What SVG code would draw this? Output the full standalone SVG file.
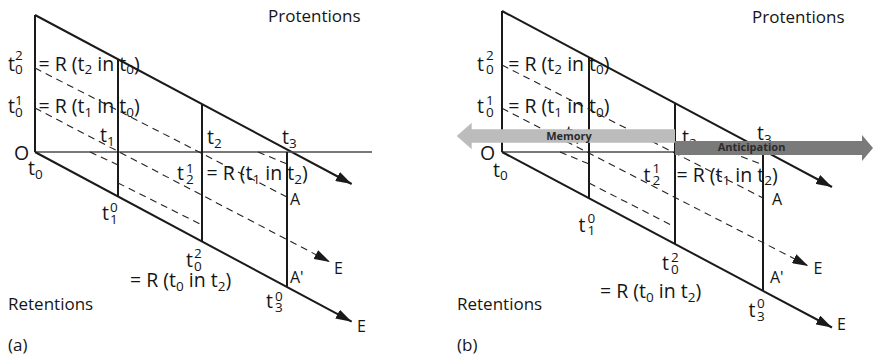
<svg xmlns="http://www.w3.org/2000/svg" width="873" height="359" viewBox="0 0 873 359">
<style>
.bg{fill:#fff}
.ln{stroke:#1a1a1a;stroke-width:2;fill:none}
.hz{stroke:#4d4d4d;stroke-width:1.5;fill:none}
.ds{stroke:#222;stroke-width:1.1;stroke-dasharray:7 5;fill:none}
.m{font-family:"Open Sans","Noto Sans",sans-serif;font-size:19.5px;fill:#151515}
.s{font-size:13.5px}
.sm{font-size:16px}
.w{font-size:17px}
.lab{font-family:"Open Sans","Noto Sans",sans-serif;font-weight:bold;font-size:11px;fill:#2b2b2b}
</style>
<defs>
<marker id="ah" viewBox="0 0 16 10" refX="16" refY="5" markerWidth="16" markerHeight="10" markerUnits="userSpaceOnUse" orient="auto">
<path d="M0,0 L16,5 L0,10 z" fill="#1a1a1a"/>
</marker>
</defs>
<rect class="bg" x="0" y="0" width="873" height="359"/>

<g id="panel-a">
<g id="connectors-a">
<path class="ln" d="M35,15 V152"/>
<path class="ln" d="M35,15 L351.7,184" marker-end="url(#ah)"/>
<path class="hz" d="M35,152 H372"/>
<path class="ln" d="M35,152 L351.7,321.7" marker-end="url(#ah)"/>
<path class="ln" d="M118,59.3 V196.5"/>
<path class="ln" d="M202,104.1 V241.5"/>
<path class="ln" d="M287,152 V287"/>
<path class="ds" d="M35,68 L287,197"/>
<path class="ds" d="M35,108 L330,262" marker-end="url(#ah)"/>
<path class="ds" d="M90,152 L118,165"/>
<path class="ds" d="M118,183 L202,225"/>
<path class="ds" d="M258,152 L287,164"/>
</g>
<g id="labels-a">
<text class="m w" x="268" y="21.5">Protentions</text>
<text class="m" x="8" y="70.5">t<tspan class="s" x="15" y="74">0</tspan><tspan class="s" x="15" y="60">2</tspan></text>
<text class="m" x="38.5" y="70.5">= R (t<tspan class="s" dy="3.5">2</tspan><tspan dy="-3.5"> in t</tspan><tspan class="s" dy="3.5">0</tspan><tspan dy="-3.5">)</tspan></text>
<text class="m" x="8" y="113">t<tspan class="s" x="15" y="116.5">0</tspan><tspan class="s" x="15" y="105">1</tspan></text>
<text class="m" x="38.5" y="113">= R (t<tspan class="s" dy="3.5">1</tspan><tspan dy="-3.5"> in t</tspan><tspan class="s" dy="3.5">0</tspan><tspan dy="-3.5">)</tspan></text>
<text class="m" x="100" y="142">t<tspan class="s" dy="3.5">1</tspan></text>
<text class="m" x="14" y="160">O</text>
<text class="m" x="28" y="175">t<tspan class="s" dy="3.5">0</tspan></text>
<text class="m" x="207" y="144">t<tspan class="s" dy="3.5">2</tspan></text>
<text class="m" x="282" y="144">t<tspan class="s" dy="3.5">3</tspan></text>
<text class="m" x="177" y="180">t<tspan class="s" x="186" y="183.5">2</tspan><tspan class="s" x="186" y="173">1</tspan></text>
<text class="m" x="206.5" y="180">= R (t<tspan class="s" dy="3.5">1</tspan><tspan dy="-3.5"> in t</tspan><tspan class="s" dy="3.5">2</tspan><tspan dy="-3.5">)</tspan></text>
<text class="m sm" x="290" y="205">A</text>
<text class="m" x="102" y="220">t<tspan class="s" x="110" y="223.5">1</tspan><tspan class="s" x="110" y="211.5">0</tspan></text>
<text class="m" x="186" y="267">t<tspan class="s" x="194" y="270.5">0</tspan><tspan class="s" x="194" y="258">2</tspan></text>
<text class="m" x="130" y="287">= R (t<tspan class="s" dy="3.5">0</tspan><tspan dy="-3.5"> in t</tspan><tspan class="s" dy="3.5">2</tspan><tspan dy="-3.5">)</tspan></text>
<text class="m sm" x="290" y="283">A'</text>
<text class="m sm" x="334" y="274">E</text>
<text class="m" x="266" y="308">t<tspan class="s" x="275" y="312">3</tspan><tspan class="s" x="275" y="301">0</tspan></text>
<text class="m sm" x="357" y="332">E</text>
<text class="m w" x="8" y="310">Retentions</text>
<text class="m w" x="8" y="351">(a)</text>
</g>
</g>

<g id="panel-b">
<g id="connectors-b">
<path class="ln" d="M502,11 V152"/>
<path class="ln" d="M502,11 L832,187" marker-end="url(#ah)"/>
<path class="hz" d="M502,152 H855"/>
<path class="ln" d="M502,152 L832,327.5" marker-end="url(#ah)"/>
<path class="ln" d="M589,57.4 V198.3"/>
<path class="ln" d="M675,103.3 V244"/>
<path class="ln" d="M763,152 V290.8"/>
<path class="ds" d="M502,65 L763,198"/>
<path class="ds" d="M502,108.3 L808.3,266" marker-end="url(#ah)"/>
<path class="ds" d="M560,152 L589,164"/>
<path class="ds" d="M589,183 L675,227"/>
<path class="ds" d="M730,152 L763,165"/>
</g>
<g id="labels-b">
<text class="m w" x="752" y="22.5">Protentions</text>
<text class="m" x="477" y="70.5">t<tspan class="s" x="486" y="74">0</tspan><tspan class="s" x="486" y="60">2</tspan></text>
<text class="m" x="508.3" y="70.5">= R (t<tspan class="s" dy="3.5">2</tspan><tspan dy="-3.5"> in t</tspan><tspan class="s" dy="3.5">0</tspan><tspan dy="-3.5">)</tspan></text>
<text class="m" x="477" y="113">t<tspan class="s" x="486" y="116.5">0</tspan><tspan class="s" x="486" y="105">1</tspan></text>
<text class="m" x="508.3" y="113">= R (t<tspan class="s" dy="3.5">1</tspan><tspan dy="-3.5"> in t</tspan><tspan class="s" dy="3.5">0</tspan><tspan dy="-3.5">)</tspan></text>
<text class="m" x="566" y="140">t<tspan class="s" dy="3.5">1</tspan></text>
<text class="m" x="480" y="160">O</text>
<text class="m" x="493" y="176.5">t<tspan class="s" dy="3.5">0</tspan></text>
<text class="m" x="682" y="144">t<tspan class="s" dy="3.5">2</tspan></text>
<text class="m" x="757" y="140">t<tspan class="s" dy="3.5">3</tspan></text>
<text class="m" x="643.5" y="181.5">t<tspan class="s" x="652.5" y="185">2</tspan><tspan class="s" x="652.5" y="173">1</tspan></text>
<text class="m" x="676.5" y="181.5">= R (t<tspan class="s" dy="3.5">1</tspan><tspan dy="-3.5"> in t</tspan><tspan class="s" dy="3.5">2</tspan><tspan dy="-3.5">)</tspan></text>
<text class="m sm" x="772" y="205">A</text>
<text class="m" x="578.5" y="231.5">t<tspan class="s" x="587.5" y="234.5">1</tspan><tspan class="s" x="587.5" y="223">0</tspan></text>
<text class="m" x="662" y="270">t<tspan class="s" x="671" y="274">0</tspan><tspan class="s" x="671" y="261.5">2</tspan></text>
<text class="m" x="600" y="298">= R (t<tspan class="s" dy="3.5">0</tspan><tspan dy="-3.5"> in t</tspan><tspan class="s" dy="3.5">2</tspan><tspan dy="-3.5">)</tspan></text>
<text class="m sm" x="770" y="283">A'</text>
<text class="m sm" x="813.5" y="274">E</text>
<text class="m" x="748.5" y="317">t<tspan class="s" x="757" y="321">3</tspan><tspan class="s" x="757" y="308">0</tspan></text>
<text class="m sm" x="837" y="330">E</text>
<text class="m w" x="457" y="310">Retentions</text>
<text class="m w" x="457" y="351">(b)</text>
</g>
<g id="memory">
<polygon points="456.7,136 471.7,122.7 471.7,129.3 675,129.3 675,142.7 471.7,142.7 471.7,149.3" fill="#bcbcbc"/>
<text class="lab" x="569" y="139.5" text-anchor="middle">Memory</text>
</g>
<g id="anticipation">
<polygon points="675,141 862,141 862,135 873,148 862,161 862,155 675,155" fill="#7a7a7a"/>
<text class="lab" x="751.5" y="151" text-anchor="middle">Anticipation</text>
</g>
</g>
</svg>
